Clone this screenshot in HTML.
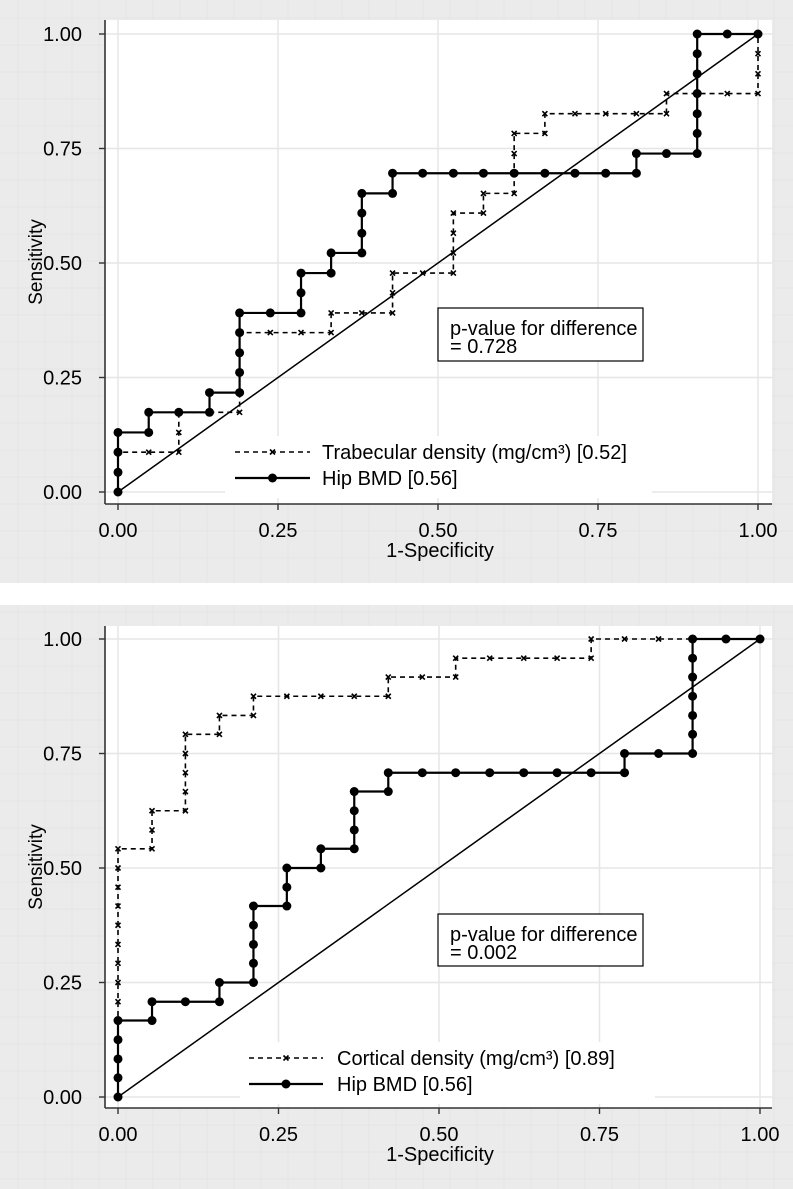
<!DOCTYPE html>
<html><head><meta charset="utf-8">
<style>
html,body{margin:0;padding:0;background:#fff;}
svg{display:block;font-family:"Liberation Sans",Arial,sans-serif;}
</style></head>
<body>
<svg id="fig" width="793" height="1189" viewBox="0 0 793 1189" xmlns="http://www.w3.org/2000/svg">
<defs>
<pattern id="bgGrid" width="27" height="27" patternUnits="userSpaceOnUse">
<rect width="27" height="27" fill="#ebebeb"/>
<path d="M18 0V27M0 18H27" stroke="#e5e5e5" stroke-width="1"/>
</pattern>
</defs>
<rect x="0" y="0" width="793" height="583" fill="url(#bgGrid)"/>
<rect x="0" y="605" width="793" height="584" fill="url(#bgGrid)"/>
</svg>
<script>
// ---- Data: top panel (Trabecular vs Hip BMD) ----
const ticks = [0, 0.25, 0.5, 0.75, 1];
const tickLabels = ["0.00", "0.25", "0.50", "0.75", "1.00"];

const topHipFpr = [0,0,0,0,.048,.048,.095,.143,.143,.190,.190,.190,.190,.190,.238,.286,.286,.286,.333,.333,.381,.381,.381,.381,.429,.429,.476,.524,.571,.619,.667,.714,.762,.810,.810,.857,.905,.905,.905,.905,.905,.905,.905,.952,1];
const topHipTpr = [0,.043,.087,.130,.130,.174,.174,.174,.217,.217,.261,.304,.348,.391,.391,.391,.435,.478,.478,.522,.522,.565,.609,.652,.652,.696,.696,.696,.696,.696,.696,.696,.696,.696,.739,.739,.739,.783,.826,.870,.913,.957,1,1,1];

const topTrabFpr = [0,0,0,.048,.095,.095,.095,.143,.190,.190,.190,.190,.190,.238,.286,.333,.333,.381,.429,.429,.429,.476,.524,.524,.524,.524,.571,.571,.619,.619,.619,.619,.667,.667,.714,.762,.810,.857,.857,.905,.952,1,1,1,1];
const topTrabTpr = [0,.043,.087,.087,.087,.130,.174,.174,.174,.217,.261,.304,.348,.348,.348,.348,.391,.391,.391,.435,.478,.478,.478,.522,.565,.609,.609,.652,.652,.696,.739,.783,.783,.826,.826,.826,.826,.826,.870,.870,.870,.870,.913,.957,1];

// ---- Data: bottom panel (Cortical vs Hip BMD) ----
const botHipFpr = [0,0,0,0,0,.053,.053,.105,.158,.158,.211,.211,.211,.211,.211,.263,.263,.263,.316,.316,.368,.368,.368,.368,.421,.421,.474,.526,.579,.632,.684,.737,.789,.789,.842,.895,.895,.895,.895,.895,.895,.895,.947,1];
const botHipTpr = [0,.042,.083,.125,.167,.167,.208,.208,.208,.25,.25,.292,.333,.375,.417,.417,.458,.5,.5,.542,.542,.583,.625,.667,.667,.708,.708,.708,.708,.708,.708,.708,.708,.75,.75,.75,.792,.833,.875,.917,.958,1,1,1];

const botCortFpr = [0,0,0,0,0,0,0,0,0,0,0,0,0,0,.053,.053,.053,.105,.105,.105,.105,.105,.158,.158,.211,.211,.263,.316,.368,.421,.421,.474,.526,.526,.579,.632,.684,.737,.737,.789,.842,.895,.947,1];
const botCortTpr = [0,.042,.083,.125,.167,.208,.25,.292,.333,.375,.417,.458,.5,.542,.542,.583,.625,.625,.667,.708,.75,.792,.792,.833,.833,.875,.875,.875,.875,.875,.917,.917,.917,.958,.958,.958,.958,.958,1,1,1,1,1,1];

const topLegend = ["Trabecular density (mg/cm\u00B3) [0.52]", "Hip BMD [0.56]"];
const botLegend = ["Cortical density (mg/cm\u00B3) [0.89]", "Hip BMD [0.56]"];
const topP = "= 0.728";
const botP = "= 0.002";

const NS = "http://www.w3.org/2000/svg";
const svg = document.getElementById("fig");
function mk(tag, attrs, parent) {
  const e = document.createElementNS(NS, tag);
  for (const k in attrs) e.setAttribute(k, attrs[k]);
  (parent || svg).appendChild(e);
  return e;
}

function panel(cfg) {
  const g = mk("g", {});
  
  
  const sx = v => cfg.x0 + v * (cfg.x1 - cfg.x0);
  const sy = v => cfg.y0 - v * (cfg.y0 - cfg.y1);

  const plot = mk("rect", {x: cfg.L, y: cfg.T, width: cfg.R - cfg.L, height: cfg.B - cfg.T, fill: "#fff"}, g);
  
  

  ticks.forEach(t => {
    const gv = mk("line", {x1: sx(t), x2: sx(t), y1: cfg.T, y2: cfg.B, stroke: "#e6e6e6", "stroke-width": 1.5}, g);
    
    
    const gh = mk("line", {x1: cfg.L, x2: cfg.R, y1: sy(t), y2: sy(t), stroke: "#e6e6e6", "stroke-width": 1.5}, g);
    
    
  });

  const diag = mk("line", {x1: sx(0), y1: sy(0), x2: sx(1), y2: sy(1), stroke: "#000", "stroke-width": 1.5}, g);
  
  

  const dpts = cfg.dF.map((f, i) => sx(f) + "," + sy(cfg.dT[i])).join(" ");
  const dl = mk("polyline", {points: dpts, fill: "none", stroke: "#000", "stroke-width": 1.6, "stroke-dasharray": "5,4"}, g);
  
  
  cfg.dF.forEach((f, i) => {
    const cx = sx(f), cy = sy(cfg.dT[i]);
    const m = mk("path", {d: `M${cx-2.5},${cy-2.5}L${cx+2.5},${cy+2.5}M${cx-2.5},${cy+2.5}L${cx+2.5},${cy-2.5}`, stroke: "#000", "stroke-width": 1.6}, g);
    
    
  });

  const hpts = cfg.hF.map((f, i) => sx(f) + "," + sy(cfg.hT[i])).join(" ");
  const hl = mk("polyline", {points: hpts, fill: "none", stroke: "#000", "stroke-width": 2.2}, g);
  
  
  cfg.hF.forEach((f, i) => {
    const c = mk("circle", {cx: sx(f), cy: sy(cfg.hT[i]), r: 4.5, fill: "#000"}, g);
    
    
  });

  const lg = mk("g", {}, g);
  
  
  mk("rect", {x: cfg.legX, y: cfg.legY - 16, width: cfg.legW, height: 62, fill: "#fff"}, lg);
  const r1 = cfg.legY, r2 = cfg.legY + 26;
  mk("line", {x1: cfg.legLine0, x2: cfg.legLine1, y1: r1, y2: r1, stroke: "#000", "stroke-width": 1.5, "stroke-dasharray": "5,4"}, lg);
  const mx = (cfg.legLine0 + cfg.legLine1) / 2;
  mk("path", {d: `M${mx-2.5},${r1-2.5}L${mx+2.5},${r1+2.5}M${mx-2.5},${r1+2.5}L${mx+2.5},${r1-2.5}`, stroke: "#000", "stroke-width": 1.6}, lg);
  mk("line", {x1: cfg.legLine0, x2: cfg.legLine1, y1: r2, y2: r2, stroke: "#000", "stroke-width": 2.2}, lg);
  mk("circle", {cx: mx, cy: r2, r: 4.5, fill: "#000"}, lg);
  const t1 = mk("text", {x: cfg.legText, y: r1 + 7, "font-size": 20, fill: "#000"}, lg);
  t1.textContent = cfg.legend[0];
  
  
  const t2 = mk("text", {x: cfg.legText, y: r2 + 7, "font-size": 20, fill: "#000"}, lg);
  t2.textContent = cfg.legend[1];
  
  

  const pb = mk("g", {}, g);
  
  
  mk("rect", {x: 438, y: cfg.pY, width: 205, height: cfg.pH, fill: "#fff", stroke: "#000", "stroke-width": 1.2}, pb);
  const p1 = mk("text", {x: 450, y: cfg.pY + 27, "font-size": 20}, pb);
  p1.textContent = "p-value for difference";
  const p2 = mk("text", {x: 450, y: cfg.pY + 45, "font-size": 20}, pb);
  p2.textContent = cfg.p;

  const ya = mk("line", {x1: cfg.L, x2: cfg.L, y1: cfg.T, y2: cfg.B, stroke: "#333", "stroke-width": 1.6}, g);
  
  
  const xa = mk("line", {x1: cfg.L, x2: cfg.R, y1: cfg.B, y2: cfg.B, stroke: "#333", "stroke-width": 1.6}, g);
  
  
  ticks.forEach((t, i) => {
    mk("line", {x1: cfg.L - 6, x2: cfg.L, y1: sy(t), y2: sy(t), stroke: "#333", "stroke-width": 1.4}, g);
    mk("line", {x1: sx(t), x2: sx(t), y1: cfg.B, y2: cfg.B + 6, stroke: "#333", "stroke-width": 1.4}, g);
    const yl = mk("text", {x: 82, y: sy(t) + 7, "font-size": 20, "text-anchor": "end"}, g);
    yl.textContent = tickLabels[i];
    
    
    const xl = mk("text", {x: sx(t), y: cfg.B + 33, "font-size": 20, "text-anchor": "middle"}, g);
    xl.textContent = tickLabels[i];
    
    
  });
  const xt = mk("text", {x: 440, y: cfg.B + 53, "font-size": 20, "text-anchor": "middle"}, g);
  xt.textContent = "1-Specificity";
  
  
  const cy = (cfg.T + cfg.B) / 2;
  const yt = mk("text", {x: 0, y: 0, "font-size": 19, "text-anchor": "middle", transform: `translate(42,${cy}) rotate(-90)`}, g);
  yt.textContent = "Sensitivity";
  
  
}

panel({name: "top-roc-panel", L: 105, R: 772, T: 20, B: 504, x0: 118, x1: 758, y0: 492, y1: 34,
  dF: topTrabFpr, dT: topTrabTpr, dName: "trabecular-density", hF: topHipFpr, hT: topHipTpr,
  legX: 225, legY: 452, legW: 427, legLine0: 235, legLine1: 310, legText: 322, legend: topLegend,
  pY: 308, pH: 53, p: topP});

panel({name: "bottom-roc-panel", L: 105, R: 772, T: 626, B: 1108, x0: 118, x1: 760, y0: 1097, y1: 639,
  dF: botCortFpr, dT: botCortTpr, dName: "cortical-density", hF: botHipFpr, hT: botHipTpr,
  legX: 240, legY: 1058, legW: 415, legLine0: 249, legLine1: 323, legText: 337, legend: botLegend,
  pY: 914, pH: 52, p: botP});
</script>
</body></html>
